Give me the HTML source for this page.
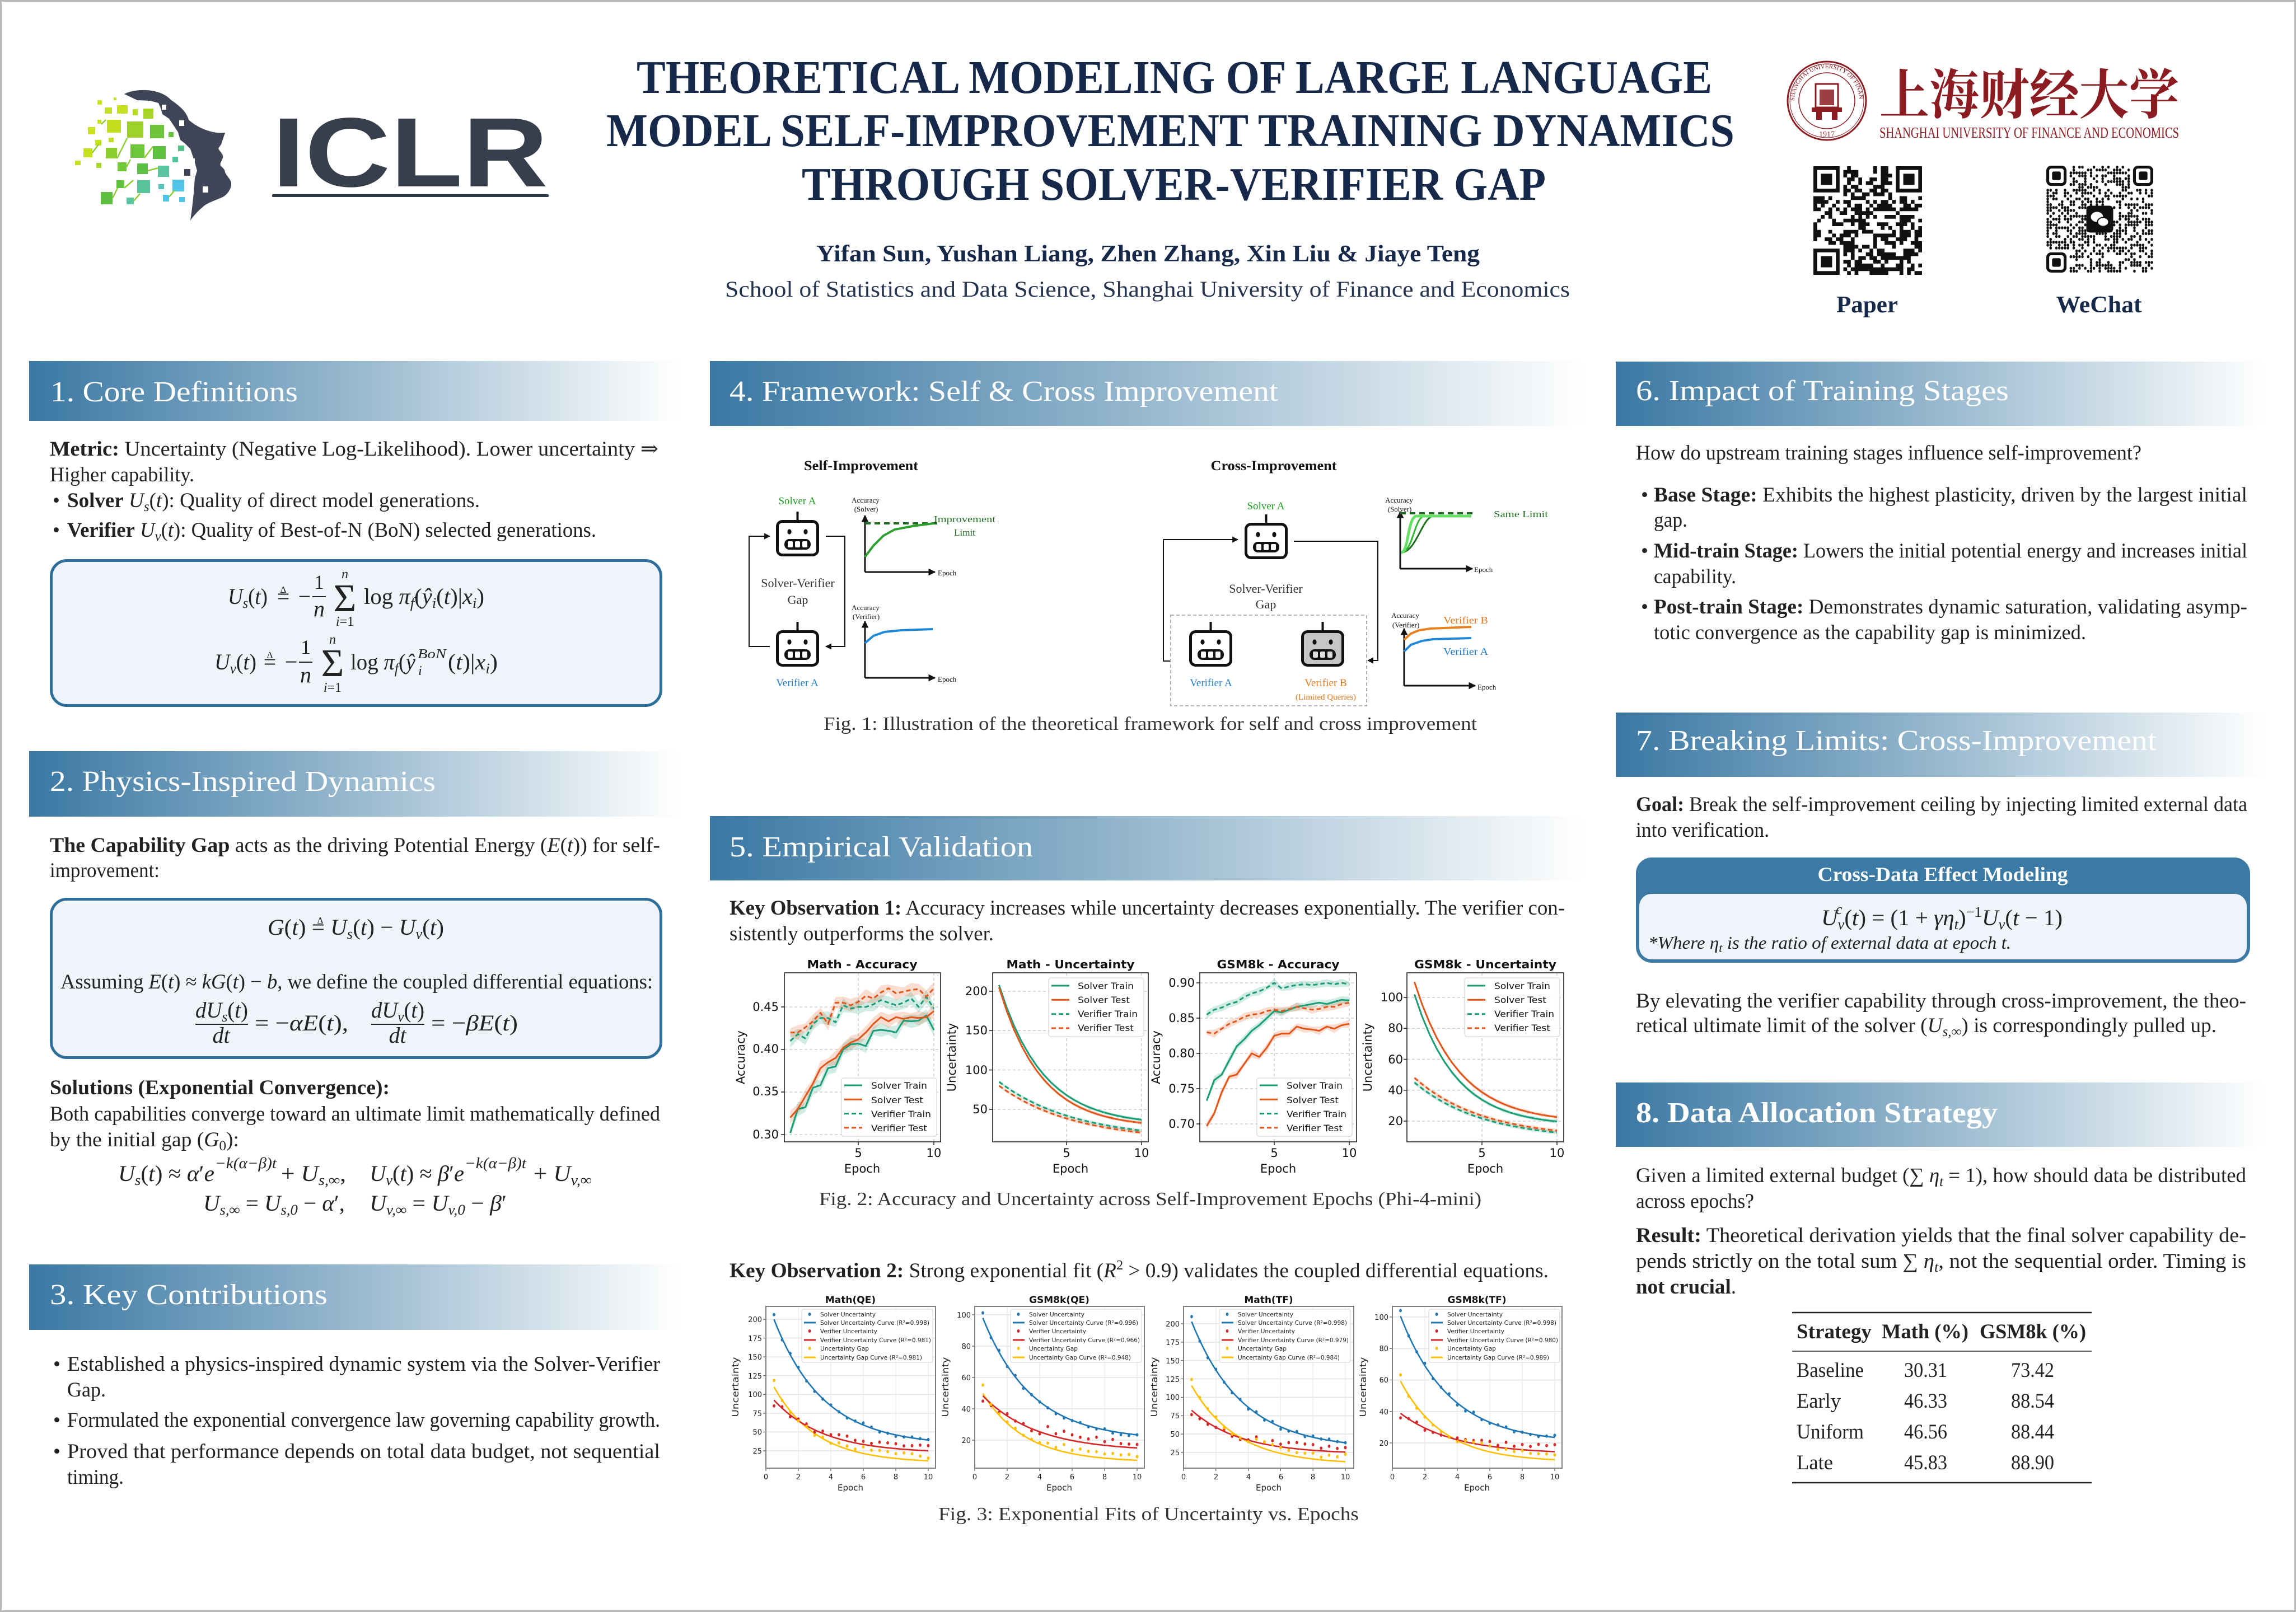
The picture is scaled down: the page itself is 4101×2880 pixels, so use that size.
<!DOCTYPE html>
<html><head><meta charset="utf-8">
<style>
html,body{margin:0;padding:0;background:#fff;}
svg{display:block;}
.s{font-family:"Liberation Serif","DejaVu Serif",serif;}
.b{font-weight:bold;}
.i{font-style:italic;}
.d{font-family:"DejaVu Sans","Liberation Sans",sans-serif;}
.h{font-family:"Liberation Serif","DejaVu Serif",serif;font-size:52px;fill:#fff;}
.t{font-family:"Liberation Serif","DejaVu Serif",serif;font-size:37px;fill:#222;}
.m{font-family:"Liberation Serif","DejaVu Serif",serif;font-size:40px;fill:#222;}
.c{font-family:"Liberation Serif","DejaVu Serif",serif;font-size:34px;fill:#333;}
.f{font-family:"Liberation Serif","DejaVu Serif",serif;fill:#111;}
</style></head><body>
<svg id="g" width="4101" height="2880" viewBox="0 0 4101 2880" xmlns="http://www.w3.org/2000/svg">
<defs>
<linearGradient id="hg" x1="0" x2="1" y1="0" y2="0"><stop offset="0" stop-color="#3a78a3"/><stop offset="0.5" stop-color="#98b9cf"/><stop offset="1" stop-color="#ffffff"/></linearGradient>
<marker id="ah" viewBox="0 0 10 10" refX="9" refY="5" markerWidth="11" markerHeight="11" markerUnits="userSpaceOnUse" orient="auto"><path d="M0,0 L10,5 L0,10 z" fill="#111"/></marker>
<marker id="ax" viewBox="0 0 10 10" refX="9" refY="5" markerWidth="13" markerHeight="13" markerUnits="userSpaceOnUse" orient="auto"><path d="M0,0 L10,5 L0,10 z" fill="#111"/></marker>
<g id="rb">
<line x1="38.5" y1="-15" x2="38.5" y2="3" stroke="#111" stroke-width="4"/>
<rect x="2.5" y="2.5" width="72" height="60" rx="9" fill="#fff" stroke="#111" stroke-width="5"/>
<ellipse cx="24" cy="21" rx="3.6" ry="4.6" fill="#111"/><ellipse cx="53" cy="21" rx="3.6" ry="4.6" fill="#111"/>
<rect x="15" y="34" width="47" height="19" rx="9" fill="#111"/>
<rect x="21" y="38" width="9" height="11" rx="2" fill="#fff"/><rect x="34" y="38" width="9" height="11" rx="2" fill="#fff"/><rect x="47" y="38" width="9" height="11" rx="2" fill="#fff"/>
</g>
<g id="rb2">
<line x1="38.5" y1="-15" x2="38.5" y2="3" stroke="#111" stroke-width="4"/>
<rect x="2.5" y="2.5" width="72" height="60" rx="9" fill="#c6c6c6" stroke="#111" stroke-width="5"/>
<ellipse cx="24" cy="21" rx="3.6" ry="4.6" fill="#111"/><ellipse cx="53" cy="21" rx="3.6" ry="4.6" fill="#111"/>
<rect x="15" y="34" width="47" height="19" rx="9" fill="#111"/>
<rect x="21" y="38" width="9" height="11" rx="2" fill="#ddd"/><rect x="34" y="38" width="9" height="11" rx="2" fill="#ddd"/><rect x="47" y="38" width="9" height="11" rx="2" fill="#ddd"/>
</g>
<path id="ring" d="M3205,180 A58,58 0 1,1 3321,180"/>
</defs>
<rect width="4101" height="2880" fill="#fff"/>
<rect x="1.5" y="1.5" width="4098" height="2877" fill="none" stroke="#b8b8b8" stroke-width="3"/>

<!-- ICLR logo -->
<g>
<path d="M222,168 C240,158 285,156 306,179 C322,190 333,200 337,214 C352,228 380,240 402,237 L395,258 L390,265 C393,272 400,276 398,282 C396,288 392,292 394,296 C398,300 402,303 402,308 C406,316 414,322 413,330 C412,340 405,348 398,352 C385,358 370,362 362,370 C352,378 344,388 340,394 L343,372 L346,345 L348,318 L352,305 L348,290 L344,278 L340,266 L330,256 L322,250 L318,236 L310,224 L302,212 L290,204 L287,193 L283,184 L268,180 L245,179 Z" fill="#3f4456"/>
<rect x="289" y="187" width="8" height="9" fill="#fff"/><rect x="320" y="215" width="9" height="10" fill="#fff"/><rect x="340" y="283" width="8" height="8" fill="#fff"/><rect x="329" y="302" width="11" height="12" fill="#3f4456"/><rect x="362" y="333" width="10" height="11" fill="#fff"/>
<g>
<rect x="174" y="179" width="8" height="8" fill="#c9e21d"/><rect x="203" y="174" width="5" height="5" fill="#c9e21d"/>
<rect x="187" y="192" width="13" height="11" fill="#c5e01c"/><rect x="209" y="188" width="19" height="15" fill="#c6e11c"/>
<rect x="237" y="195" width="9" height="11" fill="#b8dc22"/><rect x="256" y="194" width="18" height="18" fill="#a9d628"/>
<rect x="191" y="214" width="25" height="23" fill="#c4e01d"/><rect x="157" y="227" width="13" height="13" fill="#c9e21d"/><rect x="174" y="214" width="7" height="7" fill="#c9e21d"/>
<rect x="227" y="217" width="29" height="29" fill="#9ed22b"/><rect x="268" y="223" width="25" height="24" fill="#6fc53a"/><rect x="301" y="236" width="9" height="9" fill="#66c43e"/>
<rect x="194" y="246" width="9" height="8" fill="#bde01f"/><rect x="170" y="250" width="11" height="10" fill="#c3e01d"/><rect x="149" y="265" width="16" height="16" fill="#c6e11c"/>
<rect x="134" y="287" width="10" height="8" fill="#c6e11c"/><rect x="189" y="264" width="20" height="19" fill="#8ccd30"/><rect x="233" y="258" width="25" height="24" fill="#6ec63a"/>
<rect x="273" y="261" width="23" height="23" fill="#5fc23f"/><rect x="318" y="260" width="11" height="10" fill="#55c389"/><rect x="172" y="291" width="9" height="9" fill="#a6d428"/>
<rect x="210" y="290" width="16" height="16" fill="#72c738"/><rect x="245" y="292" width="19" height="19" fill="#5bbf44"/><rect x="282" y="296" width="20" height="20" fill="#5bc49e"/>
<rect x="308" y="280" width="10" height="10" fill="#55c4a0"/><rect x="208" y="322" width="14" height="14" fill="#62c23f"/><rect x="245" y="322" width="23" height="23" fill="#58c49c"/>
<rect x="283" y="329" width="10" height="9" fill="#52c4b8"/><rect x="308" y="321" width="21" height="21" fill="#50c3e6"/><rect x="180" y="343" width="21" height="22" fill="#5cbf40"/>
<rect x="226" y="353" width="13" height="12" fill="#5ac59e"/><rect x="291" y="348" width="11" height="12" fill="#4fc3e8"/><rect x="320" y="352" width="10" height="9" fill="#4fc3e8"/>
<path d="M165,273 L176,258 M209,283 L227,247 M258,282 L273,262 M226,298 L233,285 M264,305 L283,300 M222,336 L238,322 M201,354 L210,336 M239,359 L250,346 M302,352 L312,340 M181,222 L189,214" stroke="#8ccd30" stroke-width="2.5"/>
</g>
<text x="486" y="333" font-family="Liberation Sans,Arial,sans-serif" font-weight="bold" font-size="176" fill="#363f4b" textLength="493" lengthAdjust="spacingAndGlyphs">ICLR</text>
<rect x="486" y="347" width="494" height="5" rx="2" fill="#2e3a48"/>
</g>

<!-- Title -->
<g font-family="Liberation Serif,DejaVu Serif,serif" font-weight="bold" fill="#16294a" font-size="84">
<text x="1137" y="166" textLength="1921" lengthAdjust="spacingAndGlyphs">THEORETICAL MODELING OF LARGE LANGUAGE</text>
<text x="1083" y="261" textLength="2015" lengthAdjust="spacingAndGlyphs">MODEL SELF-IMPROVEMENT TRAINING DYNAMICS</text>
<text x="1432" y="357" textLength="1329" lengthAdjust="spacingAndGlyphs">THROUGH SOLVER-VERIFIER GAP</text>
</g>
<text x="1458" y="467" class="s b" font-size="42" fill="#16294a" textLength="1185" lengthAdjust="spacingAndGlyphs">Yifan Sun, Yushan Liang, Zhen Zhang, Xin Liu &amp; Jiaye Teng</text>
<text x="1295" y="530" class="s" font-size="40" fill="#26334f" textLength="1509" lengthAdjust="spacingAndGlyphs">School of Statistics and Data Science, Shanghai University of Finance and Economics</text>

<!-- SUFE logo -->
<g fill="none" stroke="#8b1c22">
<circle cx="3263" cy="180" r="70" stroke-width="3"/>
<circle cx="3263" cy="180" r="66" stroke-width="1"/>
<circle cx="3263" cy="180" r="50" stroke-width="1.5"/>
</g>
<text font-family="Liberation Serif,serif" font-size="11" fill="#8b1c22"><textPath href="#ring">SHANGHAI UNIVERSITY OF FINANCE &amp; ECONOMICS</textPath></text>
<rect x="3243" y="150" width="40" height="42" fill="none" stroke="#8b1c22" stroke-width="3"/>
<rect x="3250" y="160" width="26" height="28" fill="#8b1c22" opacity="0.85"/>
<rect x="3236" y="192" width="54" height="8" fill="#8b1c22"/>
<rect x="3244" y="200" width="10" height="14" fill="#8b1c22"/><rect x="3272" y="200" width="10" height="14" fill="#8b1c22"/>
<text x="3263" y="244" text-anchor="middle" font-family="Liberation Serif,serif" font-size="14" fill="#8b1c22">1917</text>
<text x="3357" y="203" font-family="Liberation Serif,'Noto Serif CJK SC','Noto Sans CJK SC',serif" font-weight="bold" font-size="96" fill="#8b1c22" textLength="535" lengthAdjust="spacingAndGlyphs">上海财经大学</text>
<text x="3357" y="246" font-family="Liberation Serif,serif" font-size="27" fill="#8b1c22" textLength="535" lengthAdjust="spacingAndGlyphs">SHANGHAI UNIVERSITY OF FINANCE AND ECONOMICS</text>
<rect x="3239" y="297" width="194" height="194" fill="#fff"/>
<rect x="3655" y="296" width="191" height="192" fill="#fff"/>
<g id="qr"></g>
<text x="3335" y="558" text-anchor="middle" class="s b" font-size="42" fill="#16294a" textLength="110" lengthAdjust="spacingAndGlyphs">Paper</text>
<text x="3749" y="558" text-anchor="middle" class="s b" font-size="42" fill="#16294a" textLength="153" lengthAdjust="spacingAndGlyphs">WeChat</text>

<!-- Section headers -->
<rect x="52" y="645" width="1164" height="107" fill="url(#hg)"/>
<text class="h" x="90" y="717" textLength="442" lengthAdjust="spacingAndGlyphs">1. Core Definitions</text>
<rect x="52" y="1342" width="1164" height="117" fill="url(#hg)"/>
<text class="h" x="89" y="1413" textLength="689" lengthAdjust="spacingAndGlyphs">2. Physics-Inspired Dynamics</text>
<rect x="52" y="2259" width="1164" height="117" fill="url(#hg)"/>
<text class="h" x="89" y="2330" textLength="496" lengthAdjust="spacingAndGlyphs">3. Key Contributions</text>
<rect x="1268" y="645" width="1562" height="116" fill="url(#hg)"/>
<text class="h" x="1303" y="716" textLength="980" lengthAdjust="spacingAndGlyphs">4. Framework: Self &amp; Cross Improvement</text>
<rect x="1268" y="1458" width="1562" height="115" fill="url(#hg)"/>
<text class="h" x="1303" y="1530" textLength="542" lengthAdjust="spacingAndGlyphs">5. Empirical Validation</text>
<rect x="2886" y="646" width="1161" height="115" fill="url(#hg)"/>
<text class="h" x="2922" y="715" textLength="666" lengthAdjust="spacingAndGlyphs">6. Impact of Training Stages</text>
<rect x="2886" y="1273" width="1161" height="115" fill="url(#hg)"/>
<text class="h" x="2922" y="1340" textLength="930" lengthAdjust="spacingAndGlyphs">7. Breaking Limits: Cross-Improvement</text>
<rect x="2886" y="1934" width="1161" height="115" fill="url(#hg)"/>
<text class="h b" x="2922" y="2005" textLength="646" lengthAdjust="spacingAndGlyphs">8. Data Allocation Strategy</text>

<!-- Column 1 -->
<text class="t" x="89" y="814" textLength="1087" lengthAdjust="spacingAndGlyphs"><tspan class="b">Metric:</tspan> Uncertainty (Negative Log-Likelihood).  Lower uncertainty ⇒</text>
<text class="t" x="89" y="860" textLength="258" lengthAdjust="spacingAndGlyphs">Higher capability.</text>
<text class="t" x="94" y="906">•</text>
<text class="t" x="120" y="906" textLength="737" lengthAdjust="spacingAndGlyphs"><tspan class="b">Solver</tspan> <tspan class="i">U</tspan><tspan class="i" font-size="25" dy="7">s</tspan><tspan dy="-7">(</tspan><tspan class="i">t</tspan>): Quality of direct model generations.</text>
<text class="t" x="94" y="959">•</text>
<text class="t" x="120" y="959" textLength="945" lengthAdjust="spacingAndGlyphs"><tspan class="b">Verifier</tspan> <tspan class="i">U</tspan><tspan class="i" font-size="25" dy="7">v</tspan><tspan dy="-7">(</tspan><tspan class="i">t</tspan>): Quality of Best-of-N (BoN) selected generations.</text>

<rect x="91.5" y="1001.5" width="1089" height="259" rx="28" fill="#eef4f9" stroke="#2e6e9c" stroke-width="5"/>
<text class="m" x="407" y="1079" textLength="71" lengthAdjust="spacingAndGlyphs"><tspan class="i">U</tspan><tspan class="i" font-size="26" dy="7">s</tspan><tspan dy="-7">(</tspan><tspan class="i">t</tspan>)</text>
<text class="m" x="506" y="1079" text-anchor="middle">=</text><text class="m" x="506" y="1059" text-anchor="middle" style="font-size:17px">Δ</text>
<text class="m" x="544" y="1079" text-anchor="middle">−</text>
<text class="m" x="570" y="1052" text-anchor="middle" style="font-size:36px">1</text>
<line x1="558" x2="582" y1="1066" y2="1066" stroke="#222" stroke-width="2"/>
<text class="m i" x="570" y="1101" text-anchor="middle">n</text>
<text class="m" x="616" y="1092" text-anchor="middle" style="font-size:70px">Σ</text>
<text class="m i" x="616" y="1033" text-anchor="middle" style="font-size:24px">n</text>
<text class="m" x="616" y="1118" text-anchor="middle" style="font-size:24px"><tspan class="i">i</tspan>=1</text>
<text class="m" x="650" y="1079" textLength="215" lengthAdjust="spacingAndGlyphs">log <tspan class="i">π</tspan><tspan class="i" font-size="26" dy="7">f</tspan><tspan dy="-7">(</tspan><tspan class="i">ŷ</tspan><tspan class="i" font-size="26" dy="7">i</tspan><tspan dy="-7">(</tspan><tspan class="i">t</tspan>)|<tspan class="i">x</tspan><tspan class="i" font-size="26" dy="7">i</tspan><tspan dy="-7">)</tspan></text>

<text class="m" x="383" y="1196" textLength="75" lengthAdjust="spacingAndGlyphs"><tspan class="i">U</tspan><tspan class="i" font-size="26" dy="7">v</tspan><tspan dy="-7">(</tspan><tspan class="i">t</tspan>)</text>
<text class="m" x="482" y="1196" text-anchor="middle">=</text><text class="m" x="482" y="1176" text-anchor="middle" style="font-size:17px">Δ</text>
<text class="m" x="520" y="1196" text-anchor="middle">−</text>
<text class="m" x="546" y="1168" text-anchor="middle" style="font-size:36px">1</text>
<line x1="534" x2="558" y1="1183" y2="1183" stroke="#222" stroke-width="2"/>
<text class="m i" x="546" y="1219" text-anchor="middle">n</text>
<text class="m" x="594" y="1208" text-anchor="middle" style="font-size:70px">Σ</text>
<text class="m i" x="594" y="1150" text-anchor="middle" style="font-size:24px">n</text>
<text class="m" x="594" y="1236" text-anchor="middle" style="font-size:24px"><tspan class="i">i</tspan>=1</text>
<text class="m" x="626" y="1196" textLength="116" lengthAdjust="spacingAndGlyphs">log <tspan class="i">π</tspan><tspan class="i" font-size="26" dy="7">f</tspan><tspan dy="-7">(</tspan><tspan class="i">ŷ</tspan></text>
<text class="m i" x="746" y="1176" style="font-size:24px" textLength="51" lengthAdjust="spacingAndGlyphs">BoN</text>
<text class="m i" x="747" y="1206" style="font-size:24px">i</text>
<text class="m" x="800" y="1196" textLength="89" lengthAdjust="spacingAndGlyphs">(<tspan class="i">t</tspan>)|<tspan class="i">x</tspan><tspan class="i" font-size="26" dy="7">i</tspan><tspan dy="-7">)</tspan></text>

<text class="t" x="89" y="1522" textLength="1090" lengthAdjust="spacingAndGlyphs"><tspan class="b">The Capability Gap</tspan> acts as the driving Potential Energy (<tspan class="i">E</tspan>(<tspan class="i">t</tspan>)) for self-</text>
<text class="t" x="89" y="1567" textLength="196" lengthAdjust="spacingAndGlyphs">improvement:</text>

<rect x="91.5" y="1606.5" width="1089" height="283" rx="28" fill="#eef4f9" stroke="#2e6e9c" stroke-width="5"/>
<text class="m" x="478" y="1670" textLength="315" lengthAdjust="spacingAndGlyphs"><tspan class="i">G</tspan>(<tspan class="i">t</tspan>) = <tspan class="i">U</tspan><tspan class="i" font-size="26" dy="7">s</tspan><tspan dy="-7">(</tspan><tspan class="i">t</tspan>) − <tspan class="i">U</tspan><tspan class="i" font-size="26" dy="7">v</tspan><tspan dy="-7">(</tspan><tspan class="i">t</tspan>)</text>
<text class="m" x="572" y="1650" text-anchor="middle" style="font-size:17px">Δ</text>
<text class="t" x="108" y="1766" textLength="1058" lengthAdjust="spacingAndGlyphs">Assuming <tspan class="i">E</tspan>(<tspan class="i">t</tspan>) ≈ <tspan class="i">kG</tspan>(<tspan class="i">t</tspan>) − <tspan class="i">b</tspan>, we define the coupled differential equations:</text>
<text class="m" x="349" y="1818" textLength="94" lengthAdjust="spacingAndGlyphs"><tspan class="i">dU</tspan><tspan class="i" font-size="26" dy="7">s</tspan><tspan dy="-7">(</tspan><tspan class="i">t</tspan>)</text>
<line x1="349" x2="443" y1="1830" y2="1830" stroke="#222" stroke-width="2"/>
<text class="m i" x="395" y="1863" text-anchor="middle">dt</text>
<text class="m" x="455" y="1841" textLength="167" lengthAdjust="spacingAndGlyphs">= −<tspan class="i">αE</tspan>(<tspan class="i">t</tspan>),</text>
<text class="m" x="663" y="1818" textLength="95" lengthAdjust="spacingAndGlyphs"><tspan class="i">dU</tspan><tspan class="i" font-size="26" dy="7">v</tspan><tspan dy="-7">(</tspan><tspan class="i">t</tspan>)</text>
<line x1="663" x2="758" y1="1830" y2="1830" stroke="#222" stroke-width="2"/>
<text class="m i" x="710" y="1863" text-anchor="middle">dt</text>
<text class="m" x="770" y="1841" textLength="155" lengthAdjust="spacingAndGlyphs">= −<tspan class="i">βE</tspan>(<tspan class="i">t</tspan>)</text>

<text class="t b" x="89" y="1955" textLength="607" lengthAdjust="spacingAndGlyphs">Solutions (Exponential Convergence):</text>
<text class="t" x="89" y="2002" textLength="1090" lengthAdjust="spacingAndGlyphs">Both capabilities converge toward an ultimate limit mathematically defined</text>
<text class="t" x="89" y="2048" textLength="338" lengthAdjust="spacingAndGlyphs">by the initial gap (<tspan class="i">G</tspan><tspan font-size="25" dy="7">0</tspan><tspan dy="-7">):</tspan></text>
<text class="m" x="211" y="2110" textLength="172" lengthAdjust="spacingAndGlyphs"><tspan class="i">U</tspan><tspan class="i" font-size="26" dy="7">s</tspan><tspan dy="-7">(</tspan><tspan class="i">t</tspan>) ≈ <tspan class="i">α</tspan>′<tspan class="i">e</tspan></text>
<text class="m i" x="384" y="2087" style="font-size:27px" textLength="110" lengthAdjust="spacingAndGlyphs">−k(α−β)t</text>
<text class="m" x="502" y="2110" textLength="116" lengthAdjust="spacingAndGlyphs">+ <tspan class="i">U</tspan><tspan class="i" font-size="26" dy="7">s,∞</tspan><tspan dy="-7">,</tspan></text>
<text class="m" x="660" y="2110" textLength="169" lengthAdjust="spacingAndGlyphs"><tspan class="i">U</tspan><tspan class="i" font-size="26" dy="7">v</tspan><tspan dy="-7">(</tspan><tspan class="i">t</tspan>) ≈ <tspan class="i">β</tspan>′<tspan class="i">e</tspan></text>
<text class="m i" x="830" y="2087" style="font-size:27px" textLength="110" lengthAdjust="spacingAndGlyphs">−k(α−β)t</text>
<text class="m" x="953" y="2110" textLength="104" lengthAdjust="spacingAndGlyphs">+ <tspan class="i">U</tspan><tspan class="i" font-size="26" dy="7">v,∞</tspan></text>
<text class="m" x="363" y="2163" textLength="253" lengthAdjust="spacingAndGlyphs"><tspan class="i">U</tspan><tspan class="i" font-size="26" dy="7">s,∞</tspan><tspan dy="-7"> = </tspan><tspan class="i">U</tspan><tspan class="i" font-size="26" dy="7">s,0</tspan><tspan dy="-7"> − </tspan><tspan class="i">α</tspan>′,</text>
<text class="m" x="660" y="2163" textLength="245" lengthAdjust="spacingAndGlyphs"><tspan class="i">U</tspan><tspan class="i" font-size="26" dy="7">v,∞</tspan><tspan dy="-7"> = </tspan><tspan class="i">U</tspan><tspan class="i" font-size="26" dy="7">v,0</tspan><tspan dy="-7"> − </tspan><tspan class="i">β</tspan>′</text>

<text class="t" x="95" y="2449">•</text>
<text class="t" x="120" y="2449" textLength="1059" lengthAdjust="spacingAndGlyphs">Established a physics-inspired dynamic system via the Solver-Verifier</text>
<text class="t" x="120" y="2495" textLength="69" lengthAdjust="spacingAndGlyphs">Gap.</text>
<text class="t" x="95" y="2549">•</text>
<text class="t" x="120" y="2549" textLength="1059" lengthAdjust="spacingAndGlyphs">Formulated the exponential convergence law governing capability growth.</text>
<text class="t" x="95" y="2605">•</text>
<text class="t" x="120" y="2605" textLength="1059" lengthAdjust="spacingAndGlyphs">Proved that performance depends on total data budget, not sequential</text>
<text class="t" x="120" y="2651" textLength="101" lengthAdjust="spacingAndGlyphs">timing.</text>

<!-- Column 2: Framework figure -->
<text class="f b" x="1538" y="840" text-anchor="middle" font-size="25" textLength="204" lengthAdjust="spacingAndGlyphs">Self-Improvement</text>
<text class="f b" x="2275" y="840" text-anchor="middle" font-size="25" textLength="225" lengthAdjust="spacingAndGlyphs">Cross-Improvement</text>
<text class="f" x="1424" y="901" text-anchor="middle" font-size="19" style="fill:#1e9e1e">Solver A</text>
<use href="#rb" x="1386" y="929"/>
<use href="#rb" x="1386" y="1126"/>
<text class="f" x="1424" y="1226" text-anchor="middle" font-size="19" style="fill:#1f7fd0">Verifier A</text>
<text class="f" x="1425" y="1049" text-anchor="middle" font-size="22" style="fill:#333">Solver-Verifier</text>
<text class="f" x="1425" y="1079" text-anchor="middle" font-size="22" style="fill:#333">Gap</text>
<path d="M1375,1155 L1338,1155 L1338,958 L1375,958" fill="none" stroke="#111" stroke-width="2" marker-end="url(#ah)"/>
<path d="M1475,958 L1509,958 L1509,1155 L1475,1155" fill="none" stroke="#111" stroke-width="2" marker-end="url(#ah)"/>
<text class="f" x="1546" y="898" text-anchor="middle" font-size="13">Accuracy</text>
<text class="f" x="1547" y="914" text-anchor="middle" font-size="13">(Solver)</text>
<path d="M1545,1022 L1545,921" stroke="#111" stroke-width="3" marker-end="url(#ax)"/>
<path d="M1545,1022 L1670,1022" stroke="#111" stroke-width="3" marker-end="url(#ax)"/>
<text class="f" x="1675" y="1028" font-size="13">Epoch</text>
<line x1="1545" y1="935" x2="1680" y2="935" stroke="#1e6b1e" stroke-width="4" stroke-dasharray="10,7"/>
<polyline points="1545,995 1560,975 1578,957 1598,946 1630,940 1668,935" fill="none" stroke="#2ca02c" stroke-width="4"/>
<text class="f" x="1723" y="933" text-anchor="middle" font-size="17" style="fill:#1e6b1e" textLength="110" lengthAdjust="spacingAndGlyphs">Improvement</text>
<text class="f" x="1723" y="957" text-anchor="middle" font-size="17" style="fill:#1e6b1e">Limit</text>
<text class="f" x="1546" y="1090" text-anchor="middle" font-size="13">Accuracy</text>
<text class="f" x="1547" y="1106" text-anchor="middle" font-size="13">(Verifier)</text>
<path d="M1545,1211 L1545,1110" stroke="#111" stroke-width="3" marker-end="url(#ax)"/>
<path d="M1545,1211 L1670,1211" stroke="#111" stroke-width="3" marker-end="url(#ax)"/>
<text class="f" x="1675" y="1218" font-size="13">Epoch</text>
<polyline points="1545,1149 1560,1136 1580,1129 1610,1126 1666,1124" fill="none" stroke="#1f88d8" stroke-width="4"/>

<text class="f" x="2261" y="910" text-anchor="middle" font-size="19" style="fill:#1e9e1e">Solver A</text>
<use href="#rb" x="2223" y="934"/>
<text class="f" x="2261" y="1059" text-anchor="middle" font-size="22" style="fill:#333">Solver-Verifier</text>
<text class="f" x="2261" y="1087" text-anchor="middle" font-size="22" style="fill:#333">Gap</text>
<rect x="2091" y="1099" width="350" height="162" fill="none" stroke="#999" stroke-width="1.5" stroke-dasharray="6,4"/>
<use href="#rb" x="2124" y="1126"/>
<use href="#rb2" x="2324" y="1126"/>
<text class="f" x="2163" y="1226" text-anchor="middle" font-size="19" style="fill:#1f7fd0">Verifier A</text>
<text class="f" x="2368" y="1226" text-anchor="middle" font-size="19" style="fill:#e8761a">Verifier B</text>
<text class="f" x="2368" y="1250" text-anchor="middle" font-size="15" style="fill:#e8761a">(Limited Queries)</text>
<path d="M2090,1181 L2078,1181 L2078,964 L2211,964" fill="none" stroke="#111" stroke-width="2" marker-end="url(#ah)"/>
<path d="M2311,967 L2461,967 L2461,1180 L2443,1180" fill="none" stroke="#111" stroke-width="2" marker-end="url(#ah)"/>
<text class="f" x="2499" y="898" text-anchor="middle" font-size="13">Accuracy</text>
<text class="f" x="2500" y="914" text-anchor="middle" font-size="13">(Solver)</text>
<path d="M2501,1016 L2501,914" stroke="#111" stroke-width="3" marker-end="url(#ax)"/>
<path d="M2501,1016 L2630,1016" stroke="#111" stroke-width="3" marker-end="url(#ax)"/>
<text class="f" x="2633" y="1022" font-size="13">Epoch</text>
<line x1="2501" y1="917" x2="2636" y2="917" stroke="#1e6b1e" stroke-width="4" stroke-dasharray="10,7"/>
<path d="M2503,987 C2530,986 2540,924 2560,922 L2628,922" fill="none" stroke="#1f6f1f" stroke-width="3"/>
<path d="M2503,987 C2524,986 2526,924 2544,922 L2628,922" fill="none" stroke="#33b833" stroke-width="3"/>
<path d="M2503,987 C2516,987 2514,924 2530,922 L2628,922" fill="none" stroke="#66e066" stroke-width="5"/>
<text class="f" x="2668" y="924" font-size="17" style="fill:#1e6b1e" textLength="97" lengthAdjust="spacingAndGlyphs">Same Limit</text>
<text class="f" x="2510" y="1104" text-anchor="middle" font-size="13">Accuracy</text>
<text class="f" x="2511" y="1121" text-anchor="middle" font-size="13">(Verifier)</text>
<path d="M2508,1225 L2508,1123" stroke="#111" stroke-width="3" marker-end="url(#ax)"/>
<path d="M2508,1225 L2635,1225" stroke="#111" stroke-width="3" marker-end="url(#ax)"/>
<text class="f" x="2639" y="1232" font-size="13">Epoch</text>
<polyline points="2508,1143 2520,1132 2535,1126 2555,1123 2628,1120" fill="none" stroke="#e8801e" stroke-width="4"/>
<polyline points="2508,1164 2520,1152 2540,1145 2560,1142 2628,1140" fill="none" stroke="#1f88d8" stroke-width="4"/>
<text class="f" x="2578" y="1114" font-size="18" style="fill:#e8761a" textLength="80" lengthAdjust="spacingAndGlyphs">Verifier B</text>
<text class="f" x="2578" y="1170" font-size="18" style="fill:#1f7fd0" textLength="80" lengthAdjust="spacingAndGlyphs">Verifier A</text>
<text class="c" x="1471" y="1304" textLength="1167" lengthAdjust="spacingAndGlyphs">Fig. 1: Illustration of the theoretical framework for self and cross improvement</text>

<text class="t" x="1303" y="1634" textLength="1492" lengthAdjust="spacingAndGlyphs"><tspan class="b">Key Observation 1:</tspan> Accuracy increases while uncertainty decreases exponentially.  The verifier con-</text>
<text class="t" x="1303" y="1680" textLength="472" lengthAdjust="spacingAndGlyphs">sistently outperforms the solver.</text>

<!-- Fig 2 static text -->
<g class="d" font-size="20" font-weight="bold" fill="#111" text-anchor="middle">
<text x="1540" y="1730" textLength="197" lengthAdjust="spacingAndGlyphs">Math - Accuracy</text>
<text x="1912" y="1730" textLength="229" lengthAdjust="spacingAndGlyphs">Math - Uncertainty</text>
<text x="2283" y="1730" textLength="219" lengthAdjust="spacingAndGlyphs">GSM8k - Accuracy</text>
<text x="2653" y="1730" textLength="254" lengthAdjust="spacingAndGlyphs">GSM8k - Uncertainty</text>
</g>
<g class="d" font-size="21" fill="#111" text-anchor="end">
<text x="1391" y="1806">0.45</text><text x="1391" y="1881">0.40</text><text x="1391" y="1957">0.35</text><text x="1391" y="2034">0.30</text>
<text x="1764" y="1778">200</text><text x="1764" y="1848">150</text><text x="1764" y="1919">100</text><text x="1764" y="1989">50</text>
<text x="2134" y="1763">0.90</text><text x="2134" y="1826">0.85</text><text x="2134" y="1889">0.80</text><text x="2134" y="1952">0.75</text><text x="2134" y="2015">0.70</text>
<text x="2506" y="1789">100</text><text x="2506" y="1844">80</text><text x="2506" y="1900">60</text><text x="2506" y="1955">40</text><text x="2506" y="2010">20</text>
</g>
<g class="d" font-size="21" fill="#111" text-anchor="middle">
<text x="1533" y="2067">5</text><text x="1668" y="2067">10</text>
<text x="1905" y="2067">5</text><text x="2039" y="2067">10</text>
<text x="2276" y="2067">5</text><text x="2410" y="2067">10</text>
<text x="2647" y="2067">5</text><text x="2781" y="2067">10</text>
<text x="1540" y="2095">Epoch</text><text x="1912" y="2095">Epoch</text><text x="2283" y="2095">Epoch</text><text x="2653" y="2095">Epoch</text>
<text transform="translate(1330,1889) rotate(-90)">Accuracy</text>
<text transform="translate(1707,1889) rotate(-90)">Uncertainty</text>
<text transform="translate(2072,1889) rotate(-90)">Accuracy</text>
<text transform="translate(2450,1889) rotate(-90)">Uncertainty</text>
</g>
<g id="fig2"></g>
<g id="leg2">
<rect x="1503" y="1926" width="170" height="104" rx="4" fill="#fff" fill-opacity="0.85" stroke="#ccc"/>
<rect x="1873" y="1747" width="170" height="105" rx="4" fill="#fff" fill-opacity="0.85" stroke="#ccc"/>
<rect x="2245" y="1926" width="170" height="104" rx="4" fill="#fff" fill-opacity="0.85" stroke="#ccc"/>
<rect x="2616" y="1747" width="170" height="105" rx="4" fill="#fff" fill-opacity="0.85" stroke="#ccc"/>
</g>
<g class="d" font-size="16" fill="#111">
<text x="1556" y="1945" textLength="100" lengthAdjust="spacingAndGlyphs">Solver Train</text><text x="1556" y="1971" textLength="93" lengthAdjust="spacingAndGlyphs">Solver Test</text><text x="1556" y="1996" textLength="107" lengthAdjust="spacingAndGlyphs">Verifier Train</text><text x="1556" y="2021" textLength="100" lengthAdjust="spacingAndGlyphs">Verifier Test</text>
<text x="1925" y="1767" textLength="100" lengthAdjust="spacingAndGlyphs">Solver Train</text><text x="1925" y="1792" textLength="93" lengthAdjust="spacingAndGlyphs">Solver Test</text><text x="1925" y="1817" textLength="107" lengthAdjust="spacingAndGlyphs">Verifier Train</text><text x="1925" y="1842" textLength="100" lengthAdjust="spacingAndGlyphs">Verifier Test</text>
<text x="2298" y="1945" textLength="100" lengthAdjust="spacingAndGlyphs">Solver Train</text><text x="2298" y="1971" textLength="93" lengthAdjust="spacingAndGlyphs">Solver Test</text><text x="2298" y="1996" textLength="107" lengthAdjust="spacingAndGlyphs">Verifier Train</text><text x="2298" y="2021" textLength="100" lengthAdjust="spacingAndGlyphs">Verifier Test</text>
<text x="2669" y="1767" textLength="100" lengthAdjust="spacingAndGlyphs">Solver Train</text><text x="2669" y="1792" textLength="93" lengthAdjust="spacingAndGlyphs">Solver Test</text><text x="2669" y="1817" textLength="107" lengthAdjust="spacingAndGlyphs">Verifier Train</text><text x="2669" y="1842" textLength="100" lengthAdjust="spacingAndGlyphs">Verifier Test</text>
</g>
<text class="c" x="1463" y="2153" textLength="1183" lengthAdjust="spacingAndGlyphs">Fig. 2: Accuracy and Uncertainty across Self-Improvement Epochs (Phi-4-mini)</text>

<text class="t" x="1303" y="2282" textLength="1463" lengthAdjust="spacingAndGlyphs"><tspan class="b">Key Observation 2:</tspan> Strong exponential fit (<tspan class="i">R</tspan><tspan font-size="24" dy="-14">2</tspan><tspan dy="14"> &gt; 0.9) validates the coupled differential equations.</tspan></text>

<!-- Fig 3 static text -->
<g class="d" font-size="17" font-weight="bold" fill="#111" text-anchor="middle">
<text x="1519" y="2328">Math(QE)</text><text x="1892" y="2328">GSM8k(QE)</text><text x="2266" y="2328">Math(TF)</text><text x="2638" y="2328">GSM8k(TF)</text>
</g>
<g class="d" font-size="13" fill="#222" text-anchor="end">
<text x="1361" y="2362">200</text><text x="1361" y="2396">175</text><text x="1361" y="2429">150</text><text x="1361" y="2463">125</text><text x="1361" y="2496">100</text><text x="1361" y="2530">75</text><text x="1361" y="2563">50</text><text x="1361" y="2597">25</text>
<text x="1734" y="2354">100</text><text x="1734" y="2410">80</text><text x="1734" y="2466">60</text><text x="1734" y="2522">40</text><text x="1734" y="2578">20</text>
<text x="2107" y="2370">200</text><text x="2107" y="2403">175</text><text x="2107" y="2436">150</text><text x="2107" y="2469">125</text><text x="2107" y="2501">100</text><text x="2107" y="2534">75</text><text x="2107" y="2567">50</text><text x="2107" y="2600">25</text>
<text x="2480" y="2358">100</text><text x="2480" y="2414">80</text><text x="2480" y="2470">60</text><text x="2480" y="2527">40</text><text x="2480" y="2583">20</text>
</g>
<g class="d" font-size="13" fill="#222" text-anchor="middle">
<text x="1368" y="2643">0</text><text x="1426" y="2643">2</text><text x="1484" y="2643">4</text><text x="1542" y="2643">6</text><text x="1600" y="2643">8</text><text x="1658" y="2643">10</text>
<text x="1741" y="2643">0</text><text x="1799" y="2643">2</text><text x="1857" y="2643">4</text><text x="1915" y="2643">6</text><text x="1973" y="2643">8</text><text x="2031" y="2643">10</text>
<text x="2114" y="2643">0</text><text x="2172" y="2643">2</text><text x="2230" y="2643">4</text><text x="2288" y="2643">6</text><text x="2345" y="2643">8</text><text x="2403" y="2643">10</text>
<text x="2487" y="2643">0</text><text x="2545" y="2643">2</text><text x="2603" y="2643">4</text><text x="2661" y="2643">6</text><text x="2719" y="2643">8</text><text x="2777" y="2643">10</text>
</g>
<g class="d" font-size="15" fill="#222" text-anchor="middle">
<text x="1519" y="2663">Epoch</text><text x="1892" y="2663">Epoch</text><text x="2266" y="2663">Epoch</text><text x="2638" y="2663">Epoch</text>
<text font-size="16" transform="translate(1319,2478) rotate(-90)" textLength="107" lengthAdjust="spacingAndGlyphs">Uncertainty</text>
<text font-size="16" transform="translate(1694,2478) rotate(-90)" textLength="107" lengthAdjust="spacingAndGlyphs">Uncertainty</text>
<text font-size="16" transform="translate(2067,2478) rotate(-90)" textLength="107" lengthAdjust="spacingAndGlyphs">Uncertainty</text>
<text font-size="16" transform="translate(2440,2478) rotate(-90)" textLength="107" lengthAdjust="spacingAndGlyphs">Uncertainty</text>
</g>
<g id="fig3"></g>
<g id="leg3"></g>
<g class="d" font-size="10.5" fill="#222">
<text x="1465" y="2352" textLength="99" lengthAdjust="spacingAndGlyphs">Solver Uncertainty</text><text x="1465" y="2367" textLength="195" lengthAdjust="spacingAndGlyphs">Solver Uncertainty Curve (R²=0.998)</text><text x="1465" y="2382" textLength="102" lengthAdjust="spacingAndGlyphs">Verifier Uncertainty</text><text x="1465" y="2398" textLength="198" lengthAdjust="spacingAndGlyphs">Verifier Uncertainty Curve (R²=0.981)</text><text x="1465" y="2413" textLength="87" lengthAdjust="spacingAndGlyphs">Uncertainty Gap</text><text x="1465" y="2429" textLength="182" lengthAdjust="spacingAndGlyphs">Uncertainty Gap Curve (R²=0.981)</text>
<text x="1838" y="2352" textLength="99" lengthAdjust="spacingAndGlyphs">Solver Uncertainty</text><text x="1838" y="2367" textLength="195" lengthAdjust="spacingAndGlyphs">Solver Uncertainty Curve (R²=0.996)</text><text x="1838" y="2382" textLength="102" lengthAdjust="spacingAndGlyphs">Verifier Uncertainty</text><text x="1838" y="2398" textLength="198" lengthAdjust="spacingAndGlyphs">Verifier Uncertainty Curve (R²=0.966)</text><text x="1838" y="2413" textLength="87" lengthAdjust="spacingAndGlyphs">Uncertainty Gap</text><text x="1838" y="2429" textLength="182" lengthAdjust="spacingAndGlyphs">Uncertainty Gap Curve (R²=0.948)</text>
<text x="2211" y="2352" textLength="99" lengthAdjust="spacingAndGlyphs">Solver Uncertainty</text><text x="2211" y="2367" textLength="195" lengthAdjust="spacingAndGlyphs">Solver Uncertainty Curve (R²=0.998)</text><text x="2211" y="2382" textLength="102" lengthAdjust="spacingAndGlyphs">Verifier Uncertainty</text><text x="2211" y="2398" textLength="198" lengthAdjust="spacingAndGlyphs">Verifier Uncertainty Curve (R²=0.979)</text><text x="2211" y="2413" textLength="87" lengthAdjust="spacingAndGlyphs">Uncertainty Gap</text><text x="2211" y="2429" textLength="182" lengthAdjust="spacingAndGlyphs">Uncertainty Gap Curve (R²=0.984)</text>
<text x="2585" y="2352" textLength="99" lengthAdjust="spacingAndGlyphs">Solver Uncertainty</text><text x="2585" y="2367" textLength="195" lengthAdjust="spacingAndGlyphs">Solver Uncertainty Curve (R²=0.998)</text><text x="2585" y="2382" textLength="102" lengthAdjust="spacingAndGlyphs">Verifier Uncertainty</text><text x="2585" y="2398" textLength="198" lengthAdjust="spacingAndGlyphs">Verifier Uncertainty Curve (R²=0.980)</text><text x="2585" y="2413" textLength="87" lengthAdjust="spacingAndGlyphs">Uncertainty Gap</text><text x="2585" y="2429" textLength="182" lengthAdjust="spacingAndGlyphs">Uncertainty Gap Curve (R²=0.989)</text>
</g>
<text class="c" x="1676" y="2716" textLength="751" lengthAdjust="spacingAndGlyphs">Fig. 3: Exponential Fits of Uncertainty vs. Epochs</text>

<!-- Column 3 -->
<text class="t" x="2922" y="821" textLength="903" lengthAdjust="spacingAndGlyphs">How do upstream training stages influence self-improvement?</text>
<text class="t" x="2931" y="896">•</text>
<text class="t" x="2954" y="896" textLength="1060" lengthAdjust="spacingAndGlyphs"><tspan class="b">Base Stage:</tspan> Exhibits the highest plasticity, driven by the largest initial</text>
<text class="t" x="2954" y="941" textLength="60" lengthAdjust="spacingAndGlyphs">gap.</text>
<text class="t" x="2931" y="996">•</text>
<text class="t" x="2954" y="996" textLength="1060" lengthAdjust="spacingAndGlyphs"><tspan class="b">Mid-train Stage:</tspan> Lowers the initial potential energy and increases initial</text>
<text class="t" x="2954" y="1042" textLength="147" lengthAdjust="spacingAndGlyphs">capability.</text>
<text class="t" x="2931" y="1096">•</text>
<text class="t" x="2954" y="1096" textLength="1060" lengthAdjust="spacingAndGlyphs"><tspan class="b">Post-train Stage:</tspan> Demonstrates dynamic saturation, validating asymp-</text>
<text class="t" x="2954" y="1142" textLength="772" lengthAdjust="spacingAndGlyphs">totic convergence as the capability gap is minimized.</text>

<text class="t" x="2922" y="1449" textLength="1092" lengthAdjust="spacingAndGlyphs"><tspan class="b">Goal:</tspan> Break the self-improvement ceiling by injecting limited external data</text>
<text class="t" x="2922" y="1495" textLength="238" lengthAdjust="spacingAndGlyphs">into verification.</text>

<rect x="2924.5" y="1534.5" width="1092" height="183" rx="26" fill="#3b7aa5" stroke="#3b7aa5" stroke-width="5"/>
<rect x="2928" y="1597" width="1085" height="117" rx="22" fill="#eef4f9"/>
<text x="3470" y="1574" text-anchor="middle" class="s b" font-size="36" fill="#fff" textLength="447" lengthAdjust="spacingAndGlyphs">Cross-Data Effect Modeling</text>
<text class="m" x="3253" y="1653" textLength="431" lengthAdjust="spacingAndGlyphs"><tspan class="i">U</tspan><tspan class="i" font-size="26" dy="7">v</tspan><tspan dy="-7">(</tspan><tspan class="i">t</tspan>) = (1 + <tspan class="i">γη</tspan><tspan class="i" font-size="26" dy="7">t</tspan><tspan dy="-7">)</tspan><tspan font-size="26" dy="-15">−1</tspan><tspan class="i" dy="15">U</tspan><tspan class="i" font-size="26" dy="7">v</tspan><tspan dy="-7">(</tspan><tspan class="i">t</tspan> − 1)</text>
<text class="m i" x="3279" y="1633" style="font-size:26px">c</text>
<text class="s i" x="2944" y="1695" font-size="32" fill="#222" textLength="648" lengthAdjust="spacingAndGlyphs">*Where η<tspan font-size="22" dy="6">t</tspan><tspan dy="-6"> is the ratio of external data at epoch t.</tspan></text>

<text class="t" x="2922" y="1800" textLength="1090" lengthAdjust="spacingAndGlyphs">By elevating the verifier capability through cross-improvement, the theo-</text>
<text class="t" x="2922" y="1844" textLength="1037" lengthAdjust="spacingAndGlyphs">retical ultimate limit of the solver (<tspan class="i">U</tspan><tspan class="i" font-size="25" dy="7">s,∞</tspan><tspan dy="-7">) is correspondingly pulled up.</tspan></text>

<text class="t" x="2922" y="2112" textLength="1090" lengthAdjust="spacingAndGlyphs">Given a limited external budget (∑ <tspan class="i">η</tspan><tspan class="i" font-size="25" dy="7">t</tspan><tspan dy="-7"> = 1), how should data be distributed</tspan></text>
<text class="t" x="2922" y="2158" textLength="211" lengthAdjust="spacingAndGlyphs">across epochs?</text>
<text class="t" x="2922" y="2219" textLength="1090" lengthAdjust="spacingAndGlyphs"><tspan class="b">Result:</tspan>  Theoretical derivation yields that the final solver capability de-</text>
<text class="t" x="2922" y="2265" textLength="1090" lengthAdjust="spacingAndGlyphs">pends strictly on the total sum ∑ <tspan class="i">η</tspan><tspan class="i" font-size="25" dy="7">t</tspan><tspan dy="-7">, not the sequential order.  Timing is</tspan></text>
<text class="t" x="2922" y="2311" textLength="179" lengthAdjust="spacingAndGlyphs"><tspan class="b">not crucial</tspan>.</text>

<line x1="3201" x2="3736" y1="2345" y2="2345" stroke="#222" stroke-width="2.5"/>
<text class="t b" x="3209" y="2391" textLength="134" lengthAdjust="spacingAndGlyphs">Strategy</text>
<text class="t b" x="3361" y="2391" textLength="155" lengthAdjust="spacingAndGlyphs">Math (%)</text>
<text class="t b" x="3536" y="2391" textLength="190" lengthAdjust="spacingAndGlyphs">GSM8k (%)</text>
<line x1="3201" x2="3736" y1="2414" y2="2414" stroke="#222" stroke-width="1.5"/>
<g class="t">
<text x="3209" y="2460" textLength="120" lengthAdjust="spacingAndGlyphs">Baseline</text><text x="3401" y="2460" textLength="77" lengthAdjust="spacingAndGlyphs">30.31</text><text x="3592" y="2460" textLength="77" lengthAdjust="spacingAndGlyphs">73.42</text>
<text x="3209" y="2515" textLength="79" lengthAdjust="spacingAndGlyphs">Early</text><text x="3401" y="2515" textLength="77" lengthAdjust="spacingAndGlyphs">46.33</text><text x="3592" y="2515" textLength="77" lengthAdjust="spacingAndGlyphs">88.54</text>
<text x="3209" y="2570" textLength="120" lengthAdjust="spacingAndGlyphs">Uniform</text><text x="3401" y="2570" textLength="77" lengthAdjust="spacingAndGlyphs">46.56</text><text x="3592" y="2570" textLength="77" lengthAdjust="spacingAndGlyphs">88.44</text>
<text x="3209" y="2625" textLength="65" lengthAdjust="spacingAndGlyphs">Late</text><text x="3401" y="2625" textLength="77" lengthAdjust="spacingAndGlyphs">45.83</text><text x="3592" y="2625" textLength="77" lengthAdjust="spacingAndGlyphs">88.90</text>
</g>
<line x1="3201" x2="3736" y1="2649" y2="2649" stroke="#222" stroke-width="2.5"/>
</svg>
<script>
(function(){
const NS='http://www.w3.org/2000/svg';
function el(tag,a,par){const e=document.createElementNS(NS,tag);for(const k in a)e.setAttribute(k,a[k]);par.appendChild(e);return e;}
function P(a){return a.map(p=>p[0].toFixed(1)+','+p[1].toFixed(1)).join(' ');}
function rng(s){return function(){s=(s*1103515245+12345)%2147483648;return s/2147483648;};}
/* QR codes */
const q=document.getElementById('qr');
function qr(x0,y0,size,n,seed,dots){
 const m=size/n,r=rng(seed);let d='';
 const inF=(i,j)=>(i<8&&j<8)||(i<8&&j>=n-8)||(i>=n-8&&j<8);
 const c0=Math.floor(n/2)-3,c1=Math.floor(n/2)+3;
 for(let i=0;i<n;i++)for(let j=0;j<n;j++){
  if(inF(i,j))continue;
  if(dots&&i>=c0&&i<=c1&&j>=c0&&j<=c1)continue;
  if(r()<0.5){
   if(dots){const cx=x0+j*m+m/2,cy=y0+i*m+m/2,rr=m*0.42;d+='M'+(cx-rr).toFixed(1)+','+cy.toFixed(1)+'a'+rr.toFixed(1)+','+rr.toFixed(1)+' 0 1,0 '+(2*rr).toFixed(1)+',0a'+rr.toFixed(1)+','+rr.toFixed(1)+' 0 1,0 '+(-2*rr).toFixed(1)+',0z';}
   else d+='M'+(x0+j*m).toFixed(1)+','+(y0+i*m).toFixed(1)+'h'+m.toFixed(2)+'v'+m.toFixed(2)+'h'+(-m).toFixed(2)+'z';
  }
 }
 el('path',{d:d,fill:'#111'},q);
 for(const [fi,fj] of [[0,0],[0,n-7],[n-7,0]]){
  const fx=x0+fj*m,fy=y0+fi*m;
  el('rect',{x:fx+m/2,y:fy+m/2,width:6*m,height:6*m,fill:'none',stroke:'#111','stroke-width':m,rx:dots?m*1.2:0},q);
  el('rect',{x:fx+2*m,y:fy+2*m,width:3*m,height:3*m,fill:'#111',rx:dots?m*0.6:0},q);
 }
 if(dots){const cx=x0+size/2,cy=y0+size/2;
  el('rect',{x:cx-24,y:cy-24,width:48,height:48,rx:7,fill:'#111'},q);
  el('ellipse',{cx:cx-5,cy:cy-4,rx:11,ry:9,fill:'#fff'},q);
  el('ellipse',{cx:cx+6,cy:cy+5,rx:10,ry:8,fill:'#fff',stroke:'#111','stroke-width':2},q);
 }
}
qr(3239,297,194,29,7,false);
qr(3655,296,191,37,11,true);

/* Fig 2 */
const f2=document.getElementById('fig2');
const E=[];for(let i=1;i<=20;i++)E.push(i/2);
const G='#1b9e77',O='#e0561b';
function lin(p0,p1,v0,v1){return v=>p0+(v-v0)*(p1-p0)/(v1-v0);}
function ex(a,b,k){return E.map(e=>a+b*Math.exp(-k*(e-0.5)));}
function chart2(box,xf,yf,xt,yt,ser,sdv){
 const [X,Y,W,H]=box;
 for(const t of yt){const y=yf(t);el('line',{x1:X,x2:X+W,y1:y,y2:y,stroke:'#c4c4c4','stroke-width':1.3,'stroke-dasharray':'5,4'},f2);el('line',{x1:X-6,x2:X,y1:y,y2:y,stroke:'#222','stroke-width':1.5},f2);}
 for(const t of xt){const x=xf(t);el('line',{x1:x,x2:x,y1:Y,y2:Y+H,stroke:'#c4c4c4','stroke-width':1.3,'stroke-dasharray':'5,4'},f2);el('line',{x1:x,x2:x,y1:Y+H,y2:Y+H+6,stroke:'#222','stroke-width':1.5},f2);}
 ser.forEach((s,si)=>{const up=[],lo=[];s.v.forEach((v,i)=>{const sd=sdv*(0.6+0.6*Math.abs(Math.sin(i*1.7+si)));up.push([xf(E[i]),yf(v+sd)]);lo.push([xf(E[i]),yf(v-sd)]);});
  el('polygon',{points:P(up.concat(lo.reverse())),fill:s.c,'fill-opacity':0.2,stroke:'none'},f2);});
 ser.forEach(s=>{const a={points:P(s.v.map((v,i)=>[xf(E[i]),yf(v)])),fill:'none',stroke:s.c,'stroke-width':3,'stroke-linejoin':'round'};if(s.d)a['stroke-dasharray']='8,5';el('polyline',a,f2);});
 el('rect',{x:X,y:Y,width:W,height:H,fill:'none',stroke:'#222','stroke-width':1.6},f2);
}
chart2([1401,1738,279,302],lin(1533,1668,5,10),lin(1799,2027,0.45,0.30),[5,10],[0.30,0.35,0.40,0.45],[
 {c:G,v:[0.302,0.330,0.332,0.355,0.358,0.378,0.380,0.400,0.406,0.407,0.404,0.422,0.423,0.422,0.420,0.434,0.433,0.434,0.440,0.423]},
 {c:O,v:[0.320,0.330,0.345,0.360,0.378,0.385,0.390,0.402,0.408,0.412,0.420,0.430,0.438,0.433,0.438,0.436,0.438,0.437,0.438,0.445]},
 {c:G,d:1,v:[0.410,0.418,0.413,0.430,0.437,0.437,0.432,0.452,0.448,0.450,0.450,0.453,0.458,0.455,0.452,0.455,0.460,0.450,0.462,0.448]},
 {c:O,d:1,v:[0.420,0.420,0.426,0.433,0.443,0.430,0.455,0.455,0.452,0.456,0.463,0.460,0.467,0.472,0.466,0.468,0.470,0.471,0.462,0.472]}],0.007);
chart2([1773,1738,278,302],lin(1905,2039,5,10),lin(1771,1982,200,50),[5,10],[50,100,150,200],[
 {c:G,v:ex(30,178,0.343)},{c:O,v:ex(27,178,0.36)},{c:G,d:1,v:ex(12,73,0.198)},{c:O,d:1,v:ex(10,70,0.2)}],2);
chart2([2143,1738,280,302],lin(2276,2410,5,10),lin(1756,2008,0.90,0.70),[5,10],[0.70,0.75,0.80,0.85,0.90],[
 {c:G,v:[0.733,0.762,0.770,0.790,0.810,0.820,0.832,0.840,0.850,0.860,0.858,0.862,0.866,0.868,0.870,0.872,0.870,0.873,0.876,0.875]},
 {c:O,v:[0.697,0.715,0.745,0.767,0.770,0.785,0.800,0.795,0.808,0.825,0.828,0.828,0.838,0.835,0.834,0.832,0.838,0.835,0.840,0.842]},
 {c:G,d:1,v:[0.855,0.862,0.865,0.870,0.873,0.880,0.885,0.888,0.893,0.900,0.892,0.895,0.897,0.898,0.897,0.898,0.900,0.898,0.900,0.898]},
 {c:O,d:1,v:[0.830,0.828,0.835,0.842,0.846,0.852,0.855,0.856,0.860,0.862,0.860,0.863,0.866,0.864,0.862,0.863,0.866,0.866,0.870,0.872]}],0.005);
chart2([2513,1738,280,302],lin(2647,2781,5,10),lin(1782,2003,100,20),[5,10],[20,40,60,80,100],[
 {c:G,v:ex(17,85,0.36)},{c:O,v:ex(19,91,0.34)},{c:G,d:1,v:ex(8,37,0.22)},{c:O,d:1,v:ex(9,39,0.22)}],1.2);
/* fig 2 legend samples */
const lg=document.getElementById('leg2');
[[1508,1939],[1878,1761],[2250,1939],[2621,1761]].forEach(([x,y])=>{
 [[G,0],[O,0],[G,1],[O,1]].forEach(([c,d],i)=>{const a={x1:x,x2:x+32,y1:y+i*25.3,y2:y+i*25.3,stroke:c,'stroke-width':3};if(d)a['stroke-dasharray']='8,5';el('line',a,lg);});
});

/* Fig 3 */
const f3=document.getElementById('fig3');
const C={s:'#1f77b4',v:'#d62728',g:'#ffbf00'};
function fit(box,x0,x10,yA,vA,yB,vB,yt,par,seed,range){
 const [X,Y,W,H]=box;const xf=e=>x0+e*(x10-x0)/10,yf=lin(yA,yB,vA,vB);
 for(const t of yt){const y=yf(t);el('line',{x1:X,x2:X+W,y1:y,y2:y,stroke:'#e4e4e4','stroke-width':1.6},f3);el('line',{x1:X-5,x2:X,y1:y,y2:y,stroke:'#555','stroke-width':1.2},f3);}
 for(let t=0;t<=10;t+=2){const x=xf(t);el('line',{x1:x,x2:x,y1:Y,y2:Y+H,stroke:'#ececec','stroke-width':1.3},f3);el('line',{x1:x,x2:x,y1:Y+H,y2:Y+H+5,stroke:'#555','stroke-width':1.2},f3);}
 for(const k of ['g','v','s']){const [a,b,kk]=par[k];const p=[];for(let e=0.5;e<=10.001;e+=0.1)p.push([xf(e),yf(a+b*Math.exp(-kk*e))]);el('polyline',{points:P(p),fill:'none',stroke:C[k],'stroke-width':2.6},f3);}
 const r=rng(seed);
 for(const k of ['s','v','g']){const [a,b,kk]=par[k];for(let i=1;i<=20;i++){const e=i/2;let v=a+b*Math.exp(-kk*e);v+=(r()-0.5)*range*0.03;if(k!='s'&&e>4)v+=range*0.02*(1+r());if(i==1)v+=range*(k=='g'?0.05:0.03)*(k=='v'?-1:1);
  el('ellipse',{cx:xf(e).toFixed(1),cy:yf(v).toFixed(1),rx:2.4,ry:3,fill:C[k]},f3);}}
 el('rect',{x:X,y:Y,width:W,height:H,fill:'none',stroke:'#808080','stroke-width':2},f3);
}
fit([1368,2334,303,289],1368,1658,2357,200,2592,25,[25,50,75,100,125,150,175,200],{s:[32,198,0.33],v:[22,83,0.33],g:[9,122,0.38]},3,200);
fit([1741,2334,303,289],1741,2031,2349,100,2573,20,[20,40,60,80,100],{s:[20,92,0.33],v:[13,41,0.3],g:[6,53,0.38]},5,100);
fit([2114,2334,304,289],2114,2403,2365,200,2595,25,[25,50,75,100,125,150,175,200],{s:[30,203,0.32],v:[23,70,0.33],g:[9,128,0.36]},9,200);
fit([2487,2334,303,289],2487,2777,2353,100,2578,20,[20,40,60,80,100],{s:[20,95,0.33],v:[13,30,0.3],g:[8,62,0.38]},13,100);
/* fig 3 legends */
const l3=document.getElementById('leg3');
[1432,1805,2178,2552].forEach(x=>{
 el('rect',{x:x,y:2339,width:234,height:95,rx:3,fill:'#fff','fill-opacity':0.9,stroke:'#d4d4d4'},l3);
 const ys=[2348,2363,2378,2394,2409,2425];
 [['s',0],['s',1],['v',0],['v',1],['g',0],['g',1]].forEach(([k,ln],i)=>{
  if(ln)el('line',{x1:x+4,x2:x+25,y1:ys[i],y2:ys[i],stroke:C[k],'stroke-width':3},l3);
  else el('ellipse',{cx:x+14,cy:ys[i],rx:2.4,ry:3,fill:C[k]},l3);
 });
});
})();
</script>
</body></html>
